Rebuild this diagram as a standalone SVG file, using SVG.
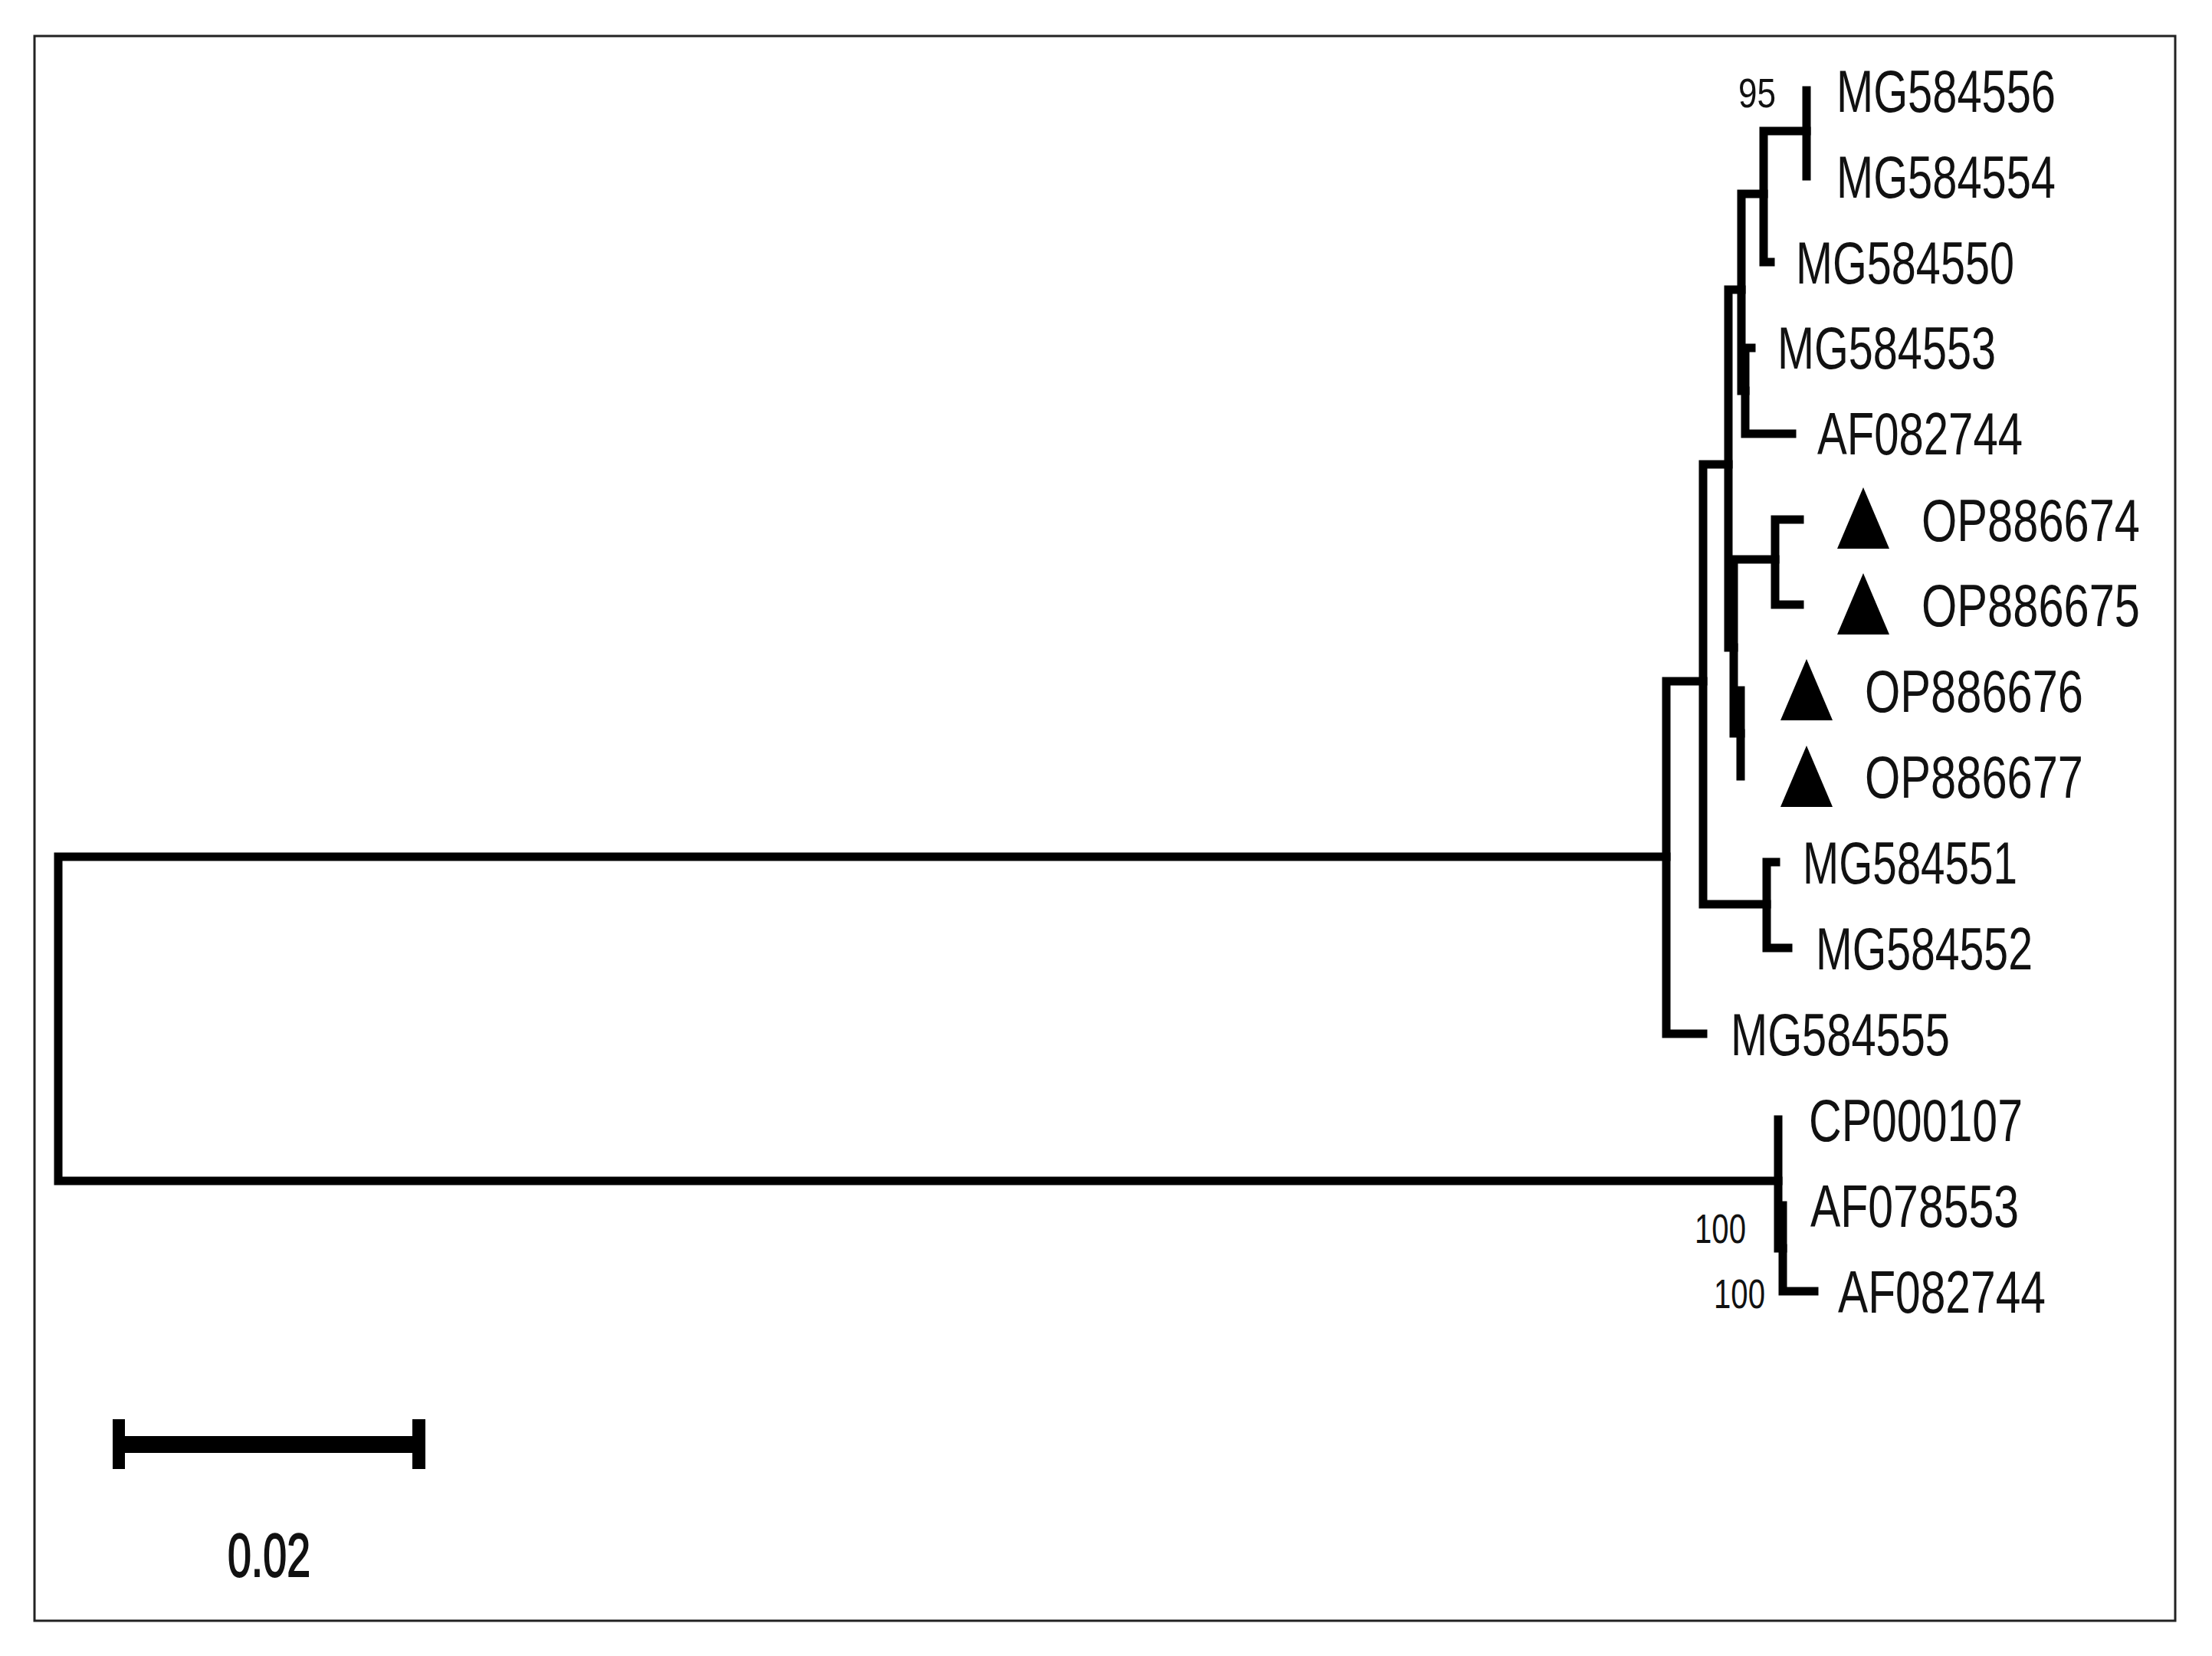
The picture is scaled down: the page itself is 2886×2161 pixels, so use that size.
<svg xmlns="http://www.w3.org/2000/svg" width="2886" height="2161" viewBox="0 0 2886 2161">
<style>
.br{fill:none;stroke:#000;stroke-width:11;stroke-linecap:square;stroke-linejoin:miter}
.lb{font-family:"Liberation Sans",Arial,sans-serif;font-size:78px;fill:#111}
.bs{font-family:"Liberation Sans",Arial,sans-serif;font-size:54px;fill:#111}
.tri{fill:#000}
</style>
<rect x="0" y="0" width="2886" height="2161" fill="#fff"/>
<rect x="45" y="47" width="2793" height="2068" fill="none" stroke="#222" stroke-width="3"/>
<g id="connectors">
<path class="br" d="M76 1118V1541M76 1118H2174M76 1541H2320"/>
<path class="br" d="M2174 889V1349H2222M2174 889H2222"/>
<path class="br" d="M2222 606V1180M2222 606H2255M2222 1180H2305"/>
<path class="br" d="M2305 1125V1237M2305 1125H2317M2305 1237H2333"/>
<path class="br" d="M2255 378V845M2255 378H2272M2255 845H2262"/>
<path class="br" d="M2272 253V510M2272 253H2301M2272 510H2277"/>
<path class="br" d="M2301 171V342H2310M2301 171H2357"/>
<path class="br" d="M2357 118V230"/>
<path class="br" d="M2277 454V566M2277 454H2285M2277 566H2338"/>
<path class="br" d="M2262 730V957M2262 730H2316M2262 957H2271"/>
<path class="br" d="M2316 678V789M2316 678H2348M2316 789H2348"/>
<path class="br" d="M2271 901V1013"/>
<path class="br" d="M2320 1461V1629M2320 1629H2326"/>
<path class="br" d="M2326 1573V1685H2367"/>
</g>
<g id="bootstrap">
<text class="bs" x="2268" y="140" textLength="49" lengthAdjust="spacingAndGlyphs">95</text>
<text class="bs" x="2211" y="1622" textLength="67" lengthAdjust="spacingAndGlyphs">100</text>
<text class="bs" x="2236" y="1707" textLength="67" lengthAdjust="spacingAndGlyphs">100</text>
</g>
<g id="n-MG584556"><text class="lb" x="2396" y="146" textLength="286" lengthAdjust="spacingAndGlyphs">MG584556</text></g>
<g id="n-MG584554"><text class="lb" x="2396" y="258" textLength="286" lengthAdjust="spacingAndGlyphs">MG584554</text></g>
<g id="n-MG584550"><text class="lb" x="2343" y="370" textLength="285" lengthAdjust="spacingAndGlyphs">MG584550</text></g>
<g id="n-MG584553"><text class="lb" x="2319" y="481" textLength="285" lengthAdjust="spacingAndGlyphs">MG584553</text></g>
<g id="n-AF082744a"><text class="lb" x="2371" y="593" textLength="268" lengthAdjust="spacingAndGlyphs">AF082744</text></g>
<g id="n-OP886674"><polygon class="tri" points="2431,636 2465,716 2397,716"/><text class="lb" x="2507" y="706" textLength="285" lengthAdjust="spacingAndGlyphs">OP886674</text></g>
<g id="n-OP886675"><polygon class="tri" points="2431,748 2465,828 2397,828"/><text class="lb" x="2507" y="817" textLength="285" lengthAdjust="spacingAndGlyphs">OP886675</text></g>
<g id="n-OP886676"><polygon class="tri" points="2357,860 2391,940 2323,940"/><text class="lb" x="2433" y="929" textLength="285" lengthAdjust="spacingAndGlyphs">OP886676</text></g>
<g id="n-OP886677"><polygon class="tri" points="2357,973 2391,1053 2323,1053"/><text class="lb" x="2433" y="1041" textLength="285" lengthAdjust="spacingAndGlyphs">OP886677</text></g>
<g id="n-MG584551"><text class="lb" x="2352" y="1153" textLength="280" lengthAdjust="spacingAndGlyphs">MG584551</text></g>
<g id="n-MG584552"><text class="lb" x="2369" y="1265" textLength="283" lengthAdjust="spacingAndGlyphs">MG584552</text></g>
<g id="n-MG584555"><text class="lb" x="2258" y="1377" textLength="286" lengthAdjust="spacingAndGlyphs">MG584555</text></g>
<g id="n-CP000107"><text class="lb" x="2360" y="1489" textLength="279" lengthAdjust="spacingAndGlyphs">CP000107</text></g>
<g id="n-AF078553"><text class="lb" x="2362" y="1601" textLength="272" lengthAdjust="spacingAndGlyphs">AF078553</text></g>
<g id="n-AF082744b"><text class="lb" x="2398" y="1713" textLength="271" lengthAdjust="spacingAndGlyphs">AF082744</text></g>
<g id="scalebar">
<rect x="147" y="1874" width="408" height="22" fill="#000"/>
<rect x="147" y="1852" width="16" height="65" fill="#000"/>
<rect x="538" y="1852" width="17" height="65" fill="#000"/>
<text x="297" y="2057" font-family="Liberation Sans,Arial,sans-serif" font-size="80" fill="#111" stroke="#111" stroke-width="2" textLength="108" lengthAdjust="spacingAndGlyphs">0.02</text>
</g>
</svg>
